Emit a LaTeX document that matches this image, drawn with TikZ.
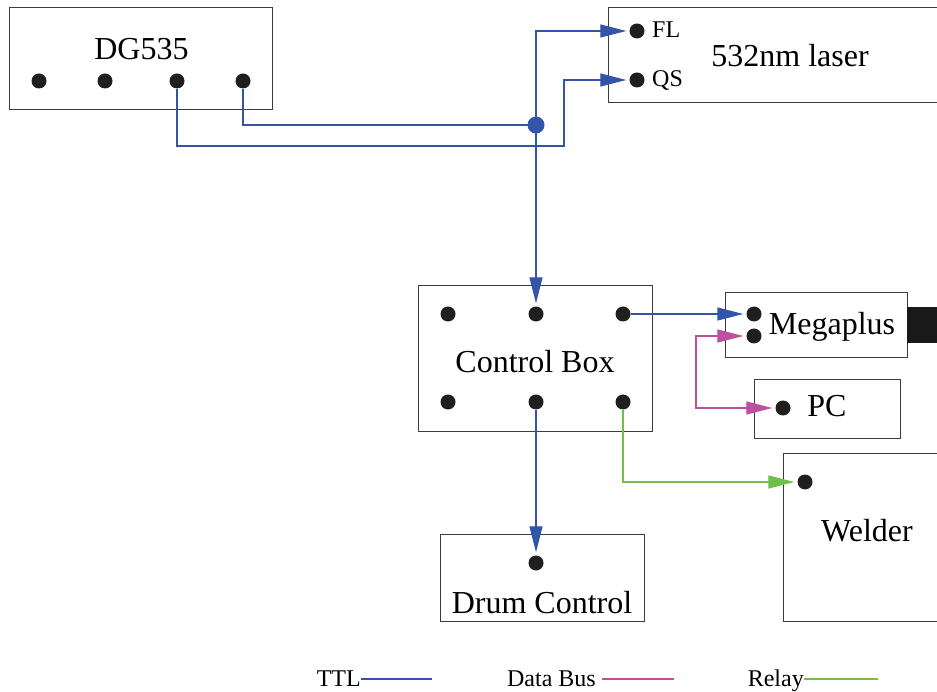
\documentclass[tikz,border=0pt]{standalone}
\usepackage{fontspec}
\setmainfont{Liberation Serif}
\usepackage{tikz}
\usetikzlibrary{arrows.meta}
\definecolor{ttlblue}  {RGB}{ 50,  85, 170}
\definecolor{busmag}   {RGB}{190,  80, 160}
\definecolor{relaygrn} {RGB}{110, 192,  72}
\definecolor{boxgray}  {RGB}{ 60,  60,  60}
\tikzset{
	devbox/.style={draw=boxgray,line width=1pt,inner sep=0pt},
	pin/.style={circle,fill=black!88,inner sep=0pt,minimum size=15pt},
	bigtext/.style={inner sep=0pt,anchor=base,font=\fontsize{32}{38}\selectfont},
	pintext/.style={inner sep=0pt,anchor=base west,font=\fontsize{24}{28}\selectfont},
	legtext/.style={inner sep=0pt,anchor=base east,font=\fontsize{24}{28}\selectfont},
	ttl/.style={draw=ttlblue,line width=1.3pt},
	bus/.style={draw=busmag,line width=1.3pt},
	relay/.style={draw=relaygrn,line width=1.3pt},
	tip/.style={-{Triangle[length=26pt,width=13pt]},shorten >=3pt}
}

\begin{document}
\begin{tikzpicture}[x=1pt,y=-1pt]
	\useasboundingbox (0,0) rectangle (937,692);
	% boxes
	\node[devbox,minimum width=263pt,minimum height=102pt] (dgbox) at (140.5,59) {};
	\node[devbox,minimum width=372pt,minimum height=95pt] (laserbox) at (794,55.5) {};
	\node[devbox,minimum width=234pt,minimum height=145pt] (ctrlbox) at (535,358.5) {};
	\node[devbox,minimum width=182pt,minimum height=65pt] (megabox) at (816,325.5) {};
	\node[fill=black!90,inner sep=0pt,minimum width=36pt,minimum height=36pt] (camhead) at (925,325) {};
	\node[devbox,minimum width=146pt,minimum height=58pt] (pcbox) at (827,409) {};
	\node[devbox,minimum width=197pt,minimum height=168pt] (weldbox) at (881.5,537) {};
	\node[devbox,minimum width=204pt,minimum height=87pt] (drumbox) at (542,577.5) {};
	% labels
	\node[bigtext] (dglab) at (141.5,60) {DG535};
	\node[bigtext] (laserlab) at (790,67) {532nm laser};
	\node[bigtext] (ctrllab) at (535,373) {Control Box};
	\node[bigtext] (megalab) at (832,335) {Megaplus};
	\node[bigtext] (pclab) at (827,417) {PC};
	\node[bigtext] (weldlab) at (867,541) {Welder};
	\node[bigtext] (drumlab) at (542,613) {Drum Control};
	\node[pintext] (fllab) at (652,38) {FL};
	\node[pintext] (qslab) at (652,87) {QS};
	% pins
	\foreach \i/\x in {1/39,2/105,3/177,4/243}
		\node[pin] (dg\i) at (\x,81) {};
	\node[pin] (fl) at (637,31) {};
	\node[pin] (qs) at (637,80) {};
	\foreach \i/\x in {1/448,2/536,3/623}{
		\node[pin] (cbt\i) at (\x,314) {};
		\node[pin] (cbb\i) at (\x,402) {};
	}
	\node[pin] (mg1) at (754,314) {};
	\node[pin] (mg2) at (754,336) {};
	\node[pin] (pcin) at (783,408) {};
	\node[pin] (weldin) at (805,482) {};
	\node[pin] (drumin) at (536,563) {};
	\node[circle,fill=ttlblue,inner sep=0pt,minimum size=17pt] (split) at (536,125) {};
	% wires
	\coordinate (qsbend) at (564,146);
	\coordinate (busbend) at (696,408);
	\draw[ttl] (dg4.south) |- (split.center);
	\draw[ttl,tip] (split.center) |- (fl.west);
	\draw[ttl,tip] (dg3.south) |- (qsbend) |- (qs.west);
	\draw[ttl,tip] (split.center) -- (cbt2.north);
	\draw[ttl,tip] (cbt3.east) -- (mg1.west);
	\draw[ttl,tip] (cbb2.south) -- (drumin.north);
	\draw[bus,{Triangle[length=26pt,width=13pt]}-{Triangle[length=26pt,width=13pt]},shorten >=3pt,shorten <=3pt] (mg2.west) -| (busbend) |- (pcin.west);
	\draw[relay,tip] (cbb3.south) |- (weldin.west);
	% legend
	\node[legtext] (ttllab) at (361,686) {TTL};
	\node[legtext] (buslab) at (596,686) {Data Bus};
	\node[legtext] (relaylab) at (804,686) {Relay};
	\coordinate (ttlend) at (432,679);
	\coordinate (busend) at (674,679);
	\coordinate (relayend) at (878,679);
	\draw[ttl] (ttllab.east |- ttlend) -- (ttlend);
	\draw[bus] ([xshift=6pt]buslab.east |- busend) -- (busend);
	\draw[relay] (relaylab.east |- relayend) -- (relayend);
\end{tikzpicture}
\end{document}
